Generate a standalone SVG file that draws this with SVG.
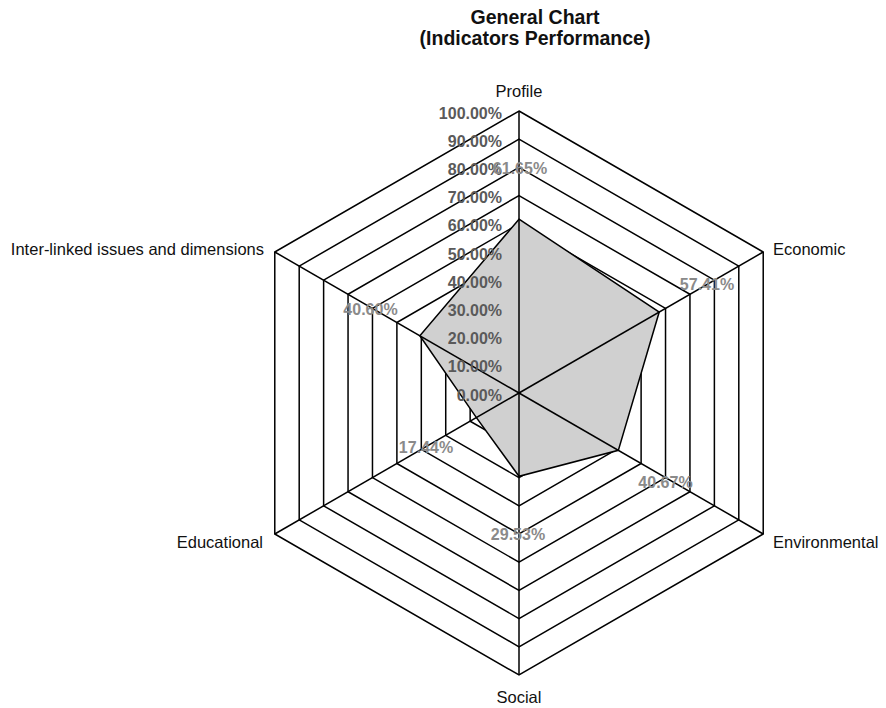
<svg xmlns="http://www.w3.org/2000/svg" width="886" height="708" viewBox="0 0 886 708">
  <style>
    .ring { fill: none; stroke: #000; stroke-width: 1.5; stroke-linejoin: miter; }
    .spoke { stroke: #000; stroke-width: 1.5; }
    .area { fill: #d0d0d0; stroke: #000; stroke-width: 1.5; stroke-linejoin: miter; }
    .title { font-family: "Liberation Sans", Arial, sans-serif; font-size: 19.5px; font-weight: bold; fill: #111; text-anchor: middle; }
    .axis { font-family: "Liberation Sans", Arial, sans-serif; font-size: 16.5px; fill: #111; }
    .tick { font-family: "Liberation Sans", Arial, sans-serif; font-size: 16px; font-weight: bold; fill: #5a5a5a; text-anchor: end; }
    .val { font-family: "Liberation Sans", Arial, sans-serif; font-size: 16px; font-weight: bold; fill: #8a8a8a; text-anchor: middle; }
  </style>
  <rect width="886" height="708" fill="#fff"/>

  <!-- title -->
  <g id="title">
    <text class="title" x="535" y="24">General Chart</text>
    <text class="title" x="535" y="45">(Indicators Performance)</text>
  </g>

  <!-- concentric hexagonal grid, centre (519,393), step 28.2 -->
  <g id="grid">
    <polygon class="ring" points="519,364.8 543.42,378.9 543.42,407.1 519,421.2 494.58,407.1 494.58,378.9"/>
    <polygon class="ring" points="519,336.6 567.84,364.8 567.84,421.2 519,449.4 470.16,421.2 470.16,364.8"/>
    <polygon class="ring" points="519,308.4 592.27,350.7 592.27,435.3 519,477.6 445.73,435.3 445.73,350.7"/>
    <polygon class="ring" points="519,280.2 616.69,336.6 616.69,449.4 519,505.8 421.31,449.4 421.31,336.6"/>
    <polygon class="ring" points="519,252 641.11,322.5 641.11,463.5 519,534 396.89,463.5 396.89,322.5"/>
    <polygon class="ring" points="519,223.8 665.53,308.4 665.53,477.6 519,562.2 372.47,477.6 372.47,308.4"/>
    <polygon class="ring" points="519,195.6 689.95,294.3 689.95,491.7 519,590.4 348.05,491.7 348.05,294.3"/>
    <polygon class="ring" points="519,167.4 714.38,280.2 714.38,505.8 519,618.6 323.62,505.8 323.62,280.2"/>
    <polygon class="ring" points="519,139.2 738.8,266.1 738.8,519.9 519,646.8 299.2,519.9 299.2,266.1"/>
    <polygon class="ring" points="519,111 763.22,252 763.22,534 519,675 274.78,534 274.78,252"/>
  </g>

  <!-- data area -->
  <g id="series">
    <polygon class="area" points="519,219.15 659.21,312.05 618.32,450.34 519,476.27 476.41,417.59 419.85,335.75"/>
  </g>

  <!-- axis spokes -->
  <g id="spokes">
    <line class="spoke" x1="519" y1="393" x2="519" y2="111"/>
    <line class="spoke" x1="519" y1="393" x2="763.22" y2="252"/>
    <line class="spoke" x1="519" y1="393" x2="763.22" y2="534"/>
    <line class="spoke" x1="519" y1="393" x2="519" y2="675"/>
    <line class="spoke" x1="519" y1="393" x2="274.78" y2="534"/>
    <line class="spoke" x1="519" y1="393" x2="274.78" y2="252"/>
  </g>

  <!-- scale ticks -->
  <g id="ticks">
    <text class="tick" x="502" y="118.5">100.00%</text>
    <text class="tick" x="502" y="146.7">90.00%</text>
    <text class="tick" x="502" y="174.9">80.00%</text>
    <text class="tick" x="502" y="203.1">70.00%</text>
    <text class="tick" x="502" y="231.3">60.00%</text>
    <text class="tick" x="502" y="259.5">50.00%</text>
    <text class="tick" x="502" y="287.7">40.00%</text>
    <text class="tick" x="502" y="315.9">30.00%</text>
    <text class="tick" x="502" y="344.1">20.00%</text>
    <text class="tick" x="502" y="372.3">10.00%</text>
    <text class="tick" x="502" y="400.5">0.00%</text>
  </g>

  <!-- value labels -->
  <g id="values">
    <text class="val" x="520" y="174">61.65%</text>
    <text class="val" x="707" y="290">57.41%</text>
    <text class="val" x="665.5" y="487.5">40.67%</text>
    <text class="val" x="518" y="540">29.53%</text>
    <text class="val" x="426" y="453">17.44%</text>
    <text class="val" x="370.5" y="315">40.60%</text>
  </g>

  <!-- axis names -->
  <g id="axis-profile"><text class="axis" x="519" y="97" text-anchor="middle">Profile</text></g>
  <g id="axis-economic"><text class="axis" x="773" y="255">Economic</text></g>
  <g id="axis-environmental"><text class="axis" x="773" y="548">Environmental</text></g>
  <g id="axis-social"><text class="axis" x="519" y="703" text-anchor="middle">Social</text></g>
  <g id="axis-educational"><text class="axis" x="263" y="548" text-anchor="end">Educational</text></g>
  <g id="axis-interlinked"><text class="axis" x="264" y="255" text-anchor="end">Inter-linked issues and dimensions</text></g>
</svg>
